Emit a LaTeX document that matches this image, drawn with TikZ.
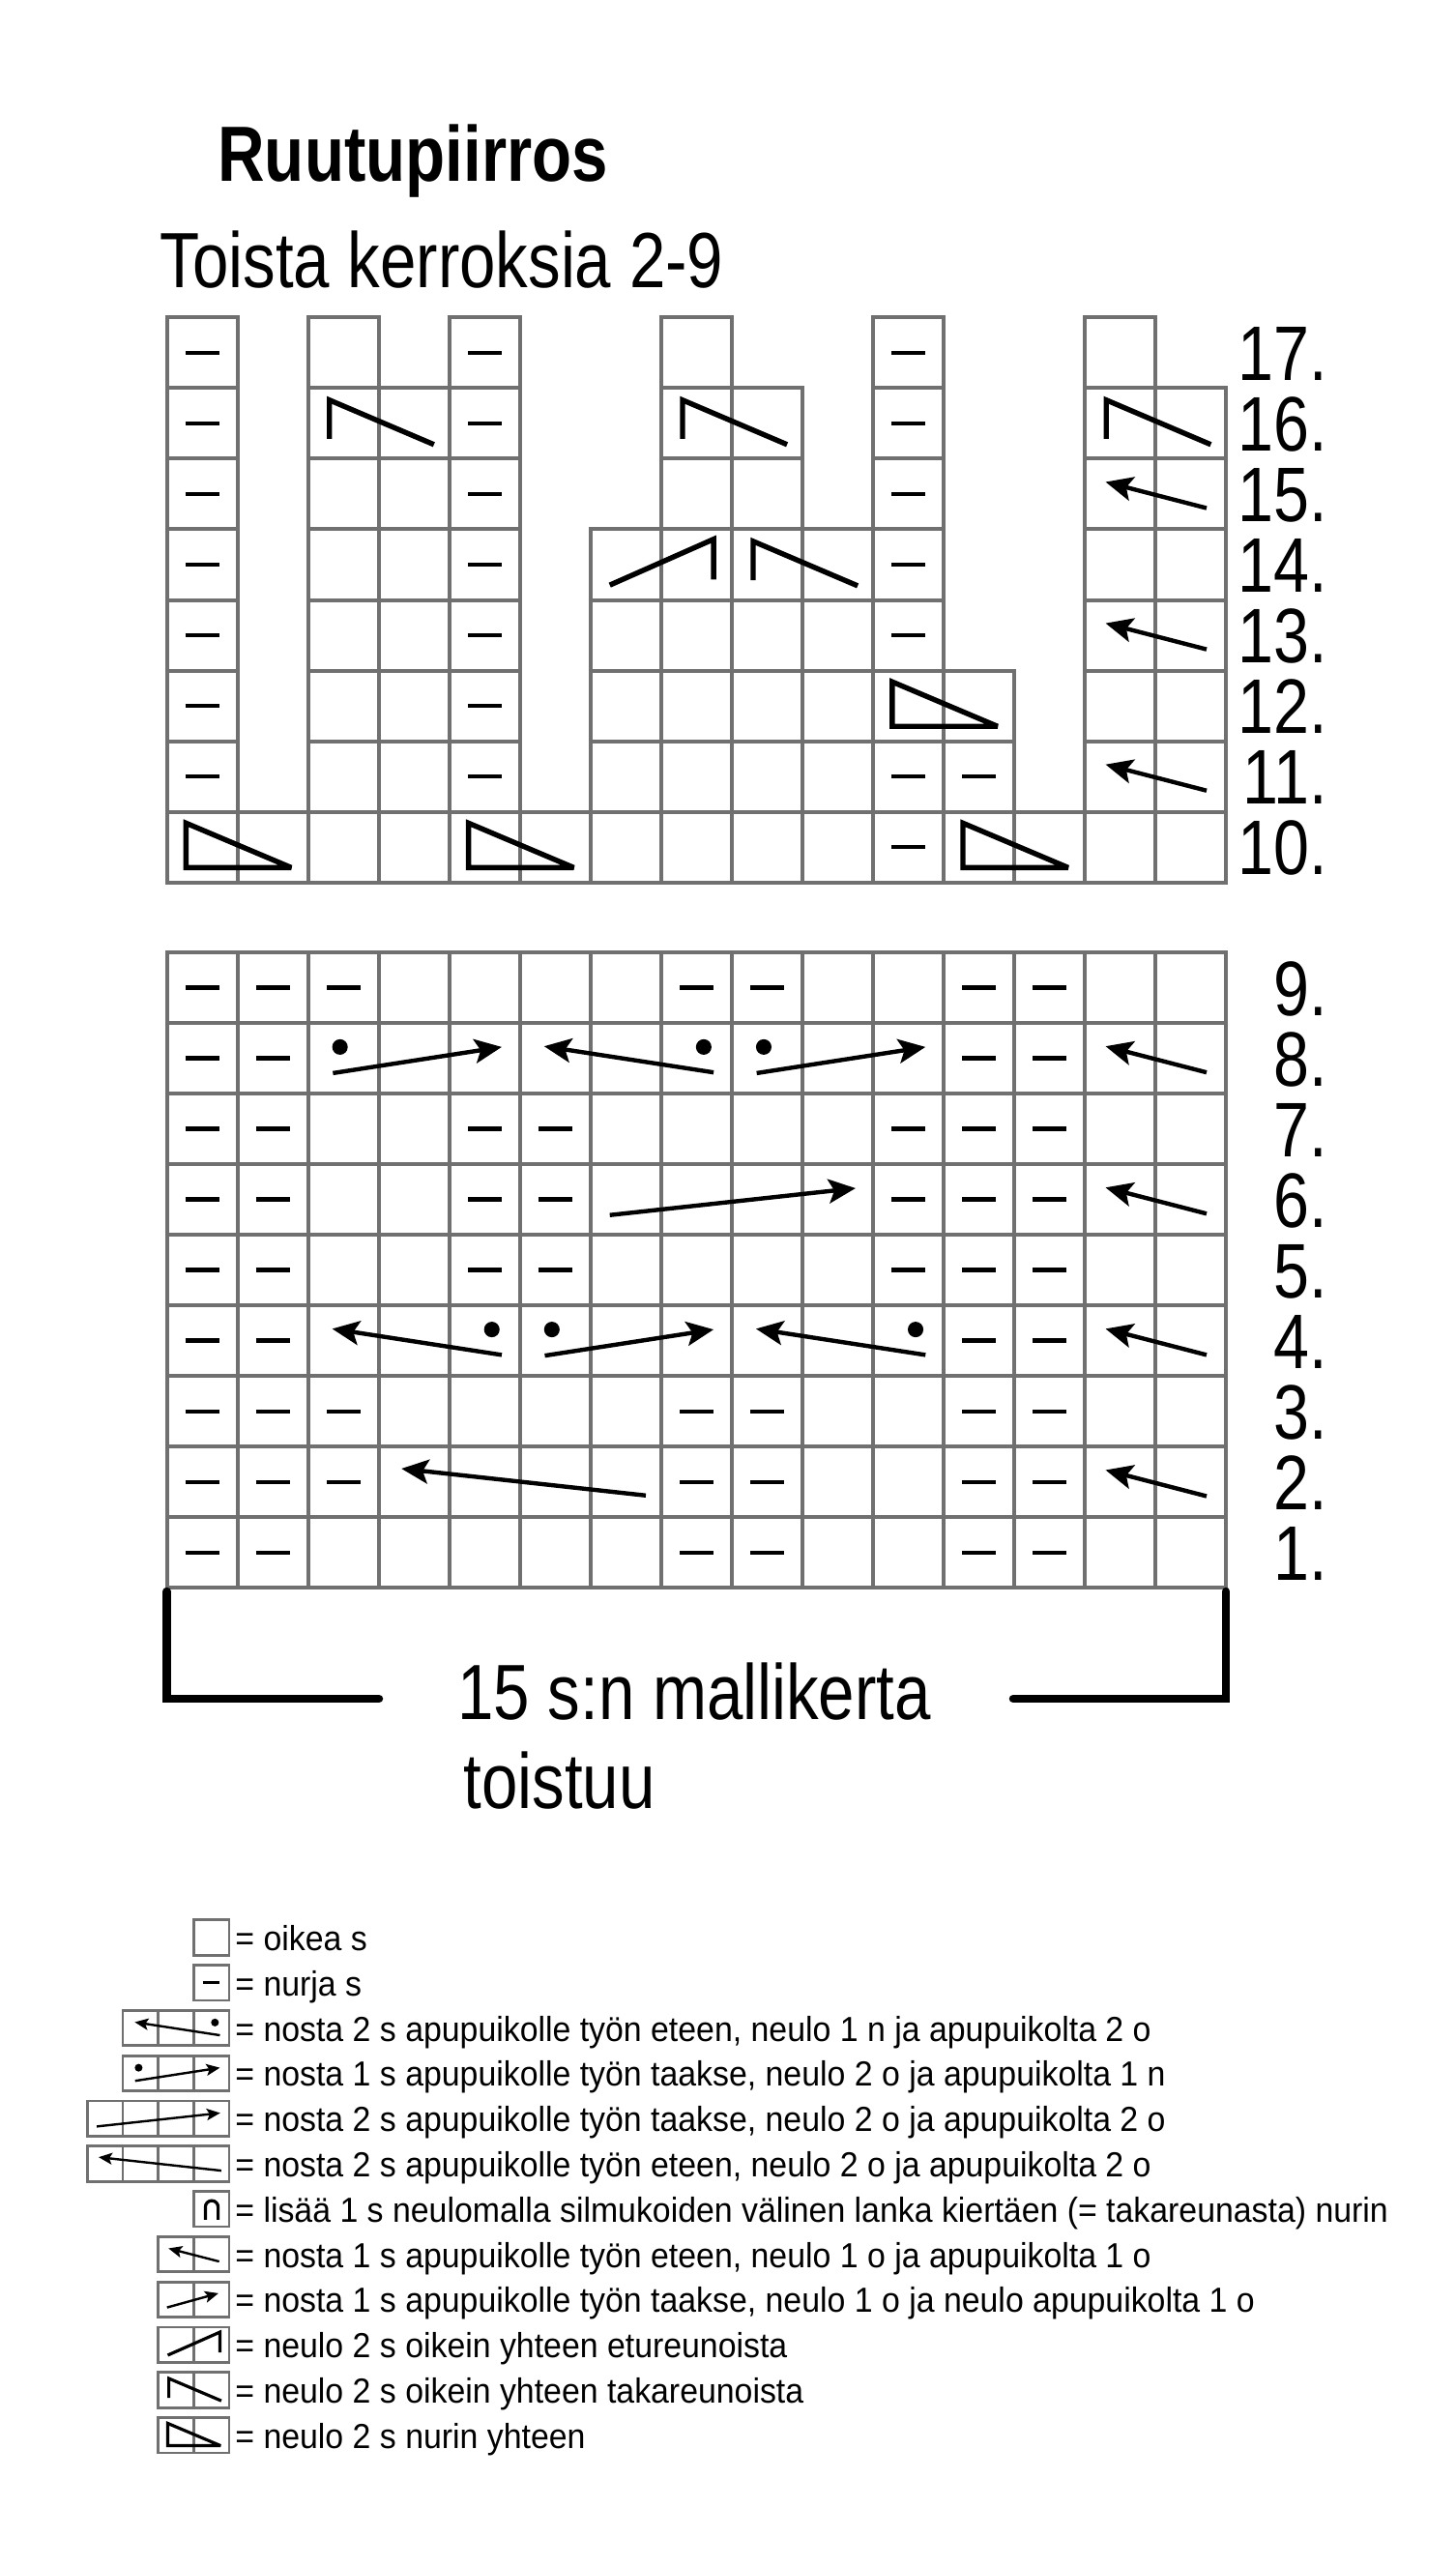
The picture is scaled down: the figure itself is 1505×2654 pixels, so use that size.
\documentclass[tikz,border=0pt]{standalone}
\usepackage{fontspec}
\setmainfont{Liberation Sans}
\newfontfamily\bigfont[FakeStretch=0.83]{Liberation Sans}
\newfontfamily\legfont[FakeStretch=0.94]{Liberation Sans}
\usetikzlibrary{arrows.meta}
\definecolor{gridgray}{RGB}{112,112,112}
\tikzset{
  cellbox/.style={draw=gridgray, line width=2pt},
  legbox/.style={draw=gridgray, line width=1.4pt},
  dashline/.style={line width=2.3pt},
  legdash/.style={line width=1.4pt},
  bigtext/.style={anchor=base west, inner sep=0pt, font=\bigfont\fontsize{40.5pt}{44pt}\selectfont},
  rowlab/.style={anchor=base east, inner sep=0pt, font=\bigfont\fontsize{40pt}{44pt}\selectfont},
  legtext/.style={anchor=base west, inner sep=0pt, font=\legfont\fontsize{18pt}{20pt}\selectfont},
  bracket/.style={line width=4.25pt, line cap=round, line join=miter},
  arrline/.style={line width=2.2pt,-{Stealth[length=14pt,width=12.5pt,inset=3pt]}},
  symline/.style={line width=2.7pt,line join=miter,miter limit=2},
  la2/.pic={\draw[arrline] (1.72,0.70) -- (0.29,0.33);},
  ra2/.pic={\draw[arrline] (0.25,0.72) -- (1.70,0.32);},
  rc3/.pic={\fill (0.45,0.34) circle[radius=0.11]; \draw[arrline] (0.35,0.71) -- (2.74,0.34);},
  lc3/.pic={\fill (2.60,0.34) circle[radius=0.11]; \draw[arrline] (2.74,0.70) -- (0.34,0.33);},
  ra4/.pic={\draw[arrline] (0.27,0.72) -- (3.75,0.34);},
  la4/.pic={\draw[arrline] (3.78,0.69) -- (0.32,0.31);},
  ssk/.pic={\draw[symline] (0.30,0.72) -- (0.30,0.17) -- (1.78,0.80);},
  k2tog/.pic={\draw[symline] (0.27,0.79) -- (1.74,0.14) -- (1.74,0.71);},
  ptog/.pic={\draw[symline] (0.27,0.16) -- (0.27,0.79) -- (1.76,0.79) -- cycle;},
  capsym/.pic={\draw[symline] (0.33,0.80) -- (0.33,0.44) arc[start angle=180,end angle=360,radius=0.18] -- (0.69,0.80);}
}
\begin{document}
\begin{tikzpicture}[x=0.5pt,y=-0.5pt]
\useasboundingbox (0,0) rectangle (1505,2654);
\fill[white] (0,0) rectangle (1505,2654);

% titles
\node[bigtext, font=\bigfont\bfseries\fontsize{40.5pt}{44pt}\selectfont] (title) at (225,188) {Ruutupiirros};
\node[bigtext] (subtitle) at (165,298) {Toista kerroksia 2-9};

% ---------- top chart (rows 10-17) ----------
\begin{scope}[shift={(172.7,328.3)}, x=36.525pt, y=-36.525pt]
  \foreach \r/\cols in {10/{1,2,3,4,5,6,7,8,9,10,11,12,13,14,15},
                        11/{1,3,4,5,7,8,9,10,11,12,14,15},
                        12/{1,3,4,5,7,8,9,10,11,12,14,15},
                        13/{1,3,4,5,7,8,9,10,11,14,15},
                        14/{1,3,4,5,7,8,9,10,11,14,15},
                        15/{1,3,4,5,8,9,11,14,15},
                        16/{1,3,4,5,8,9,11,14,15},
                        17/{1,3,5,8,11,14}}
    {\foreach \c in \cols {\draw[cellbox] (\c-1,17-\r) rectangle ++(1,1);}}
  \foreach \r/\cols in {10/{11}, 11/{1,5,11,12}, 12/{1,5}, 13/{1,5,11},
                        14/{1,5,11}, 15/{1,5,11}, 16/{1,5,11}, 17/{1,5,11}}
    {\foreach \c in \cols {\draw[dashline] (\c-0.74,17.5-\r) -- (\c-0.26,17.5-\r);}}
  % row 10
  \pic at (0,7) {ptog};
  \pic at (4,7) {ptog};
  \pic at (11,7) {ptog};
  % row 11
  \pic at (13,6) {la2};
  % row 12
  \pic at (10,5) {ptog};
  % row 13
  \pic at (13,4) {la2};
  % row 14
  \pic at (6,3) {k2tog};
  \pic at (8,3) {ssk};
  % row 15
  \pic at (13,2) {la2};
  % row 16
  \pic at (2,1) {ssk};
  \pic at (7,1) {ssk};
  \pic at (13,1) {ssk};
\end{scope}

% ---------- bottom chart (rows 1-9) ----------
\begin{scope}[shift={(172.7,985)}, x=36.525pt, y=-36.525pt]
  \foreach \r in {1,...,9}
    {\foreach \c in {1,...,15} {\draw[cellbox] (\c-1,9-\r) rectangle ++(1,1);}}
  \foreach \r/\cols in {9/{1,2,3,8,9,12,13}, 8/{1,2,12,13}, 7/{1,2,5,6,11,12,13},
                        6/{1,2,5,6,11,12,13}, 5/{1,2,5,6,11,12,13}, 4/{1,2,12,13},
                        3/{1,2,3,8,9,12,13}, 2/{1,2,3,8,9,12,13}, 1/{1,2,8,9,12,13}}
    {\foreach \c in \cols {\draw[dashline] (\c-0.74,9.5-\r) -- (\c-0.26,9.5-\r);}}
  % row 8
  \pic at (2,1) {rc3};
  \pic at (5,1) {lc3};
  \pic at (8,1) {rc3};
  \pic at (13,1) {la2};
  % row 6
  \pic at (6,3) {ra4};
  \pic at (13,3) {la2};
  % row 4
  \pic at (2,5) {lc3};
  \pic at (5,5) {rc3};
  \pic at (8,5) {lc3};
  \pic at (13,5) {la2};
  % row 2
  \pic at (3,7) {la4};
  \pic at (13,7) {la2};
\end{scope}

% row labels
\foreach \r in {10,...,17}
  {\node[rowlab] (lab\r) at (1373,{328.3+(17.5-\r)*73.05+28.5}) {\r.};}
\foreach \r in {1,...,9}
  {\node[rowlab] (lab\r) at (1373,{985+(9.5-\r)*73.05+28.5}) {\r.};}

% bracket
\draw[bracket] (172.7,1646) -- (172.7,1757) -- (392,1757);
\draw[bracket] (1268,1646) -- (1268,1757) -- (1048,1757);
\node[bigtext] (rep1) at (473,1778) {15 s:n mallikerta};
\node[bigtext] (rep2) at (479,1870) {toistuu};

% ---------- legend ----------
\foreach \i/\n in {0/1,1/1,2/3,3/3,4/4,5/4,6/1,7/2,8/2,9/2,10/2,11/2}
  {\foreach \k in {1,...,\n}
     {\draw[legbox] ({237-\k*36.7},{2004+46.8*\i-18.25}) rectangle ++(36.7,36.5);}}
\begin{scope}[arrline/.style={line width=1.2pt,-{Stealth[length=7pt,width=6pt,inset=1.5pt]}},
              symline/.style={line width=1.6pt,line join=miter,miter limit=2}]
  \draw[legdash] (209.8,2050.8) -- (227.2,2050.8);
  \pic[scale=36.7] at (126.9,2079.35) {lc3};
  \pic[scale=36.7] at (126.9,2126.15) {rc3};
  \pic[scale=36.7] at (90.2,2172.95) {ra4};
  \pic[scale=36.7] at (90.2,2219.75) {la4};
  \pic[scale=36.7] at (200.3,2266.55) {capsym};
  \pic[scale=36.7] at (163.6,2313.35) {la2};
  \pic[scale=36.7] at (163.6,2360.15) {ra2};
  \pic[scale=36.7] at (163.6,2406.95) {k2tog};
  \pic[scale=36.7] at (163.6,2453.75) {ssk};
  \pic[scale=36.7] at (163.6,2500.55) {ptog};
\end{scope}
\foreach \i/\t in {0/{= oikea s},
                   1/{= nurja s},
                   2/{= nosta 2 s apupuikolle työn eteen, neulo 1 n ja apupuikolta 2 o},
                   3/{= nosta 1 s apupuikolle työn taakse, neulo 2 o ja apupuikolta 1 n},
                   4/{= nosta 2 s apupuikolle työn taakse, neulo 2 o ja apupuikolta 2 o},
                   5/{= nosta 2 s apupuikolle työn eteen, neulo 2 o ja apupuikolta 2 o},
                   6/{= lisää 1 s neulomalla silmukoiden välinen lanka kiertäen (= takareunasta) nurin},
                   7/{= nosta 1 s apupuikolle työn eteen, neulo 1 o ja apupuikolta 1 o},
                   8/{= nosta 1 s apupuikolle työn taakse, neulo 1 o ja neulo apupuikolta 1 o},
                   9/{= neulo 2 s oikein yhteen etureunoista},
                   10/{= neulo 2 s oikein yhteen takareunoista},
                   11/{= neulo 2 s nurin yhteen}}
  {\node[legtext] (leg\i) at (243,{2004+46.8*\i+13.5}) {\t};}
\end{tikzpicture}
\end{document}
